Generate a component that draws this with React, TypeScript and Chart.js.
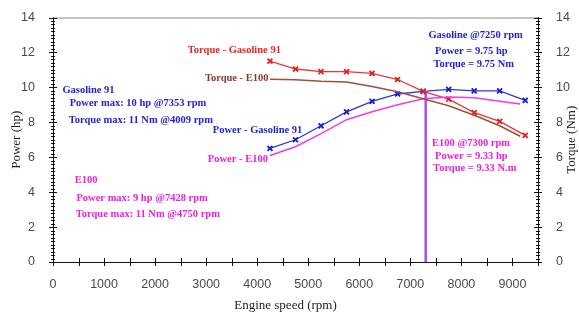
import React, { useEffect, useRef } from "react";
import { Chart, registerables } from "chart.js";

Chart.register(...registerables);

// ---- data ----
const rpmGasoline = [4250, 4750, 5250, 5750, 6250, 6750, 7250, 7750, 8250, 8750, 9250];
const torqueGasoline = [11.5, 11.05, 10.9, 10.9, 10.8, 10.45, 9.77, 9.33, 8.55, 8.05, 7.25];
const powerGasoline = [6.5, 7.0, 7.8, 8.6, 9.2, 9.62, 9.77, 9.88, 9.8, 9.8, 9.25];

const rpmE100 = [4250, 4750, 5250, 5750, 6250, 6750, 7250, 7750, 8250, 8750, 9150];
const torqueE100 = [10.47, 10.44, 10.35, 10.3, 10.05, 9.75, 9.35, 8.95, 8.4, 7.8, 7.2];
const powerE100 = [6.1, 6.6, 7.35, 8.15, 8.6, 9.0, 9.35, 9.45, 9.4, 9.2, 9.05];

const markerRpm = [7300, 7300];
const markerValue = [0, 9.75];

const xTickLabels = [0, 1000, 2000, 3000, 4000, 5000, 6000, 7000, 8000, 9000];
const yTickLabels = [0, 2, 4, 6, 8, 10, 12, 14];

const RED = "#e8363c";
const BLUE = "#2f35d8";
const BROWN = "#a0503a";
const MAGENTA = "#f03ce6";
const PURPLE = "#a64ef2";
const BLUE_TXT = "#2323d6";
const MAG_TXT = "#ee1fe0";
const RED_TXT = "#ec2424";
const BROWN_TXT = "#8a3a30";

// annotation texts placed in data coordinates (rpm, value)
const notes = [
  { text: "Torque - Gasoline 91", x: 2641, y: 12.11, color: RED_TXT },
  { text: "Torque - E100", x: 2975, y: 10.51, color: BROWN_TXT },
  { text: "Gasoline 91", x: 184, y: 9.81, color: BLUE_TXT },
  { text: "Power max: 10 hp @7353 rpm", x: 327, y: 9.07, color: BLUE_TXT },
  { text: "Torque max: 11 Nm @4009 rpm", x: 308, y: 8.12, color: BLUE_TXT },
  { text: "Power - Gasoline 91", x: 3131, y: 7.54, color: BLUE_TXT },
  { text: "Power - E100", x: 3033, y: 5.88, color: MAG_TXT },
  { text: "E100", x: 425, y: 4.69, color: MAG_TXT },
  { text: "Power max: 9 hp @7428 rpm", x: 459, y: 3.67, color: MAG_TXT },
  { text: "Torque max: 11 Nm @4750 rpm", x: 445, y: 2.75, color: MAG_TXT },
  { text: "Gasoline @7250 rpm", x: 7353, y: 13.0, color: BLUE_TXT },
  { text: "Power = 9.75 hp", x: 7484, y: 12.05, color: BLUE_TXT },
  { text: "Torque = 9.75 Nm", x: 7451, y: 11.33, color: BLUE_TXT },
  { text: "E100 @7300 rpm", x: 7425, y: 6.77, color: MAG_TXT },
  { text: "Power = 9.33 hp", x: 7484, y: 6.04, color: MAG_TXT },
  { text: "Torque = 9.33 N.m", x: 7445, y: 5.36, color: MAG_TXT },
];

const pts = (xs: number[], ys: number[]) => xs.map((x, i) => ({ x, y: ys[i] }));

const decorPlugin = {
  id: "decor",
  afterDraw(chart: any) {
    const { ctx, chartArea, scales } = chart;
    const xs = scales.x;
    const ys = scales.y;
    ctx.save();
    // top frame line
    ctx.strokeStyle = "#888";
    ctx.lineWidth = 1;
    ctx.beginPath();
    ctx.moveTo(chartArea.left, chartArea.top + 0.5);
    ctx.lineTo(chartArea.right, chartArea.top + 0.5);
    ctx.stroke();

    ctx.strokeStyle = "#111";
    ctx.lineWidth = 1;
    ctx.beginPath();
    // x ticks every 500
    for (let v = 0; v <= 9500; v += 500) {
      const px = Math.round(xs.getPixelForValue(v)) + 0.5;
      ctx.moveTo(px, chartArea.bottom - 4);
      ctx.lineTo(px, chartArea.bottom + 4);
    }
    // y ticks both sides
    for (let k = 0; k <= 70; k++) {
      const v = k * 0.2;
      const py = Math.round(ys.getPixelForValue(v)) + 0.5;
      const major = k % 10 === 0;
      const len = major ? 4 : 2;
      [chartArea.left, chartArea.right].forEach((ax) => {
        ctx.moveTo(ax - len, py);
        ctx.lineTo(ax + len, py);
      });
    }
    ctx.stroke();

    // axis titles
    ctx.fillStyle = "#222";
    ctx.font = "13px 'Liberation Serif', 'Times New Roman', serif";
    ctx.textAlign = "center";
    ctx.textBaseline = "middle";
    ctx.fillText("Engine speed (rpm)", (chartArea.left + chartArea.right) / 2 - 10, 306);
    const midY = (chartArea.top + chartArea.bottom) / 2;
    ctx.save();
    ctx.translate(17, midY);
    ctx.rotate(-Math.PI / 2);
    ctx.fillText("Power (hp)", 0, 0);
    ctx.restore();
    ctx.save();
    ctx.translate(572, midY);
    ctx.rotate(-Math.PI / 2);
    ctx.fillText("Torque (Nm)", 0, 0);
    ctx.restore();

    // annotations
    ctx.font = "bold 10.5px 'Liberation Serif', 'Times New Roman', serif";
    ctx.textAlign = "left";
    notes.forEach((n) => {
      ctx.fillStyle = n.color;
      ctx.fillText(n.text, xs.getPixelForValue(n.x), ys.getPixelForValue(n.y));
    });
    ctx.restore();
  },
};

export default function App() {
  const ref = useRef<HTMLCanvasElement | null>(null);
  useEffect(() => {
    if (!ref.current) return;
    const tickFont = { family: "'Liberation Sans', Arial, sans-serif", size: 12.5 };
    const plain = (v: any) => String(v);
    const chart = new Chart(ref.current, {
      type: "line",
      data: {
        datasets: [
          {
            label: "Torque - E100",
            data: pts(rpmE100, torqueE100),
            borderColor: BROWN,
            borderWidth: 1.5,
            pointRadius: 0,
            yAxisID: "y2",
          },
          {
            label: "Power - E100",
            data: pts(rpmE100, powerE100),
            borderColor: MAGENTA,
            borderWidth: 1.5,
            pointRadius: 0,
            yAxisID: "y",
          },
          {
            label: "Torque - Gasoline 91",
            data: pts(rpmGasoline, torqueGasoline),
            borderColor: RED,
            borderWidth: 1.3,
            pointStyle: "crossRot",
            pointRadius: 3.5,
            pointBorderWidth: 1.8,
            pointBorderColor: "#e02020",
            yAxisID: "y2",
          },
          {
            label: "Power - Gasoline 91",
            data: pts(rpmGasoline, powerGasoline),
            borderColor: BLUE,
            borderWidth: 1.3,
            pointStyle: "crossRot",
            pointRadius: 3.5,
            pointBorderWidth: 1.8,
            pointBorderColor: "#1a1ad0",
            yAxisID: "y",
          },
          {
            label: "E100 @7300 rpm",
            data: pts(markerRpm, markerValue),
            borderColor: PURPLE,
            borderWidth: 2.5,
            pointRadius: 0,
            yAxisID: "y",
          },
        ],
      },
      options: {
        responsive: false,
        animation: false,
        layout: { padding: { top: 16, left: 0, right: 0, bottom: 0 } },
        plugins: { legend: { display: false }, tooltip: { enabled: false } },
        scales: {
          x: {
            type: "linear",
            min: 0,
            max: 9500,
            afterFit: (s: any) => {
              s.height = 53;
            },
            afterBuildTicks: (s: any) => {
              s.ticks = xTickLabels.map((v) => ({ value: v }));
            },
            grid: { display: false },
            border: { display: true, color: "#111", width: 1 },
            ticks: { color: "#4a4a4a", font: tickFont, padding: 7, maxRotation: 0, autoSkip: false, callback: plain },
          },
          y: {
            position: "left",
            min: 0,
            max: 14,
            afterFit: (s: any) => {
              s.width = 53;
            },
            afterBuildTicks: (s: any) => {
              s.ticks = yTickLabels.map((v) => ({ value: v }));
            },
            grid: { display: false },
            border: { display: true, color: "#111", width: 1 },
            ticks: { color: "#4a4a4a", font: tickFont, padding: 10, callback: plain },
          },
          y2: {
            position: "right",
            min: 0,
            max: 14,
            afterFit: (s: any) => {
              s.width = 41;
            },
            afterBuildTicks: (s: any) => {
              s.ticks = yTickLabels.map((v) => ({ value: v }));
            },
            grid: { display: false },
            border: { display: true, color: "#111", width: 1 },
            ticks: { color: "#4a4a4a", font: tickFont, padding: 10, callback: plain },
          },
        },
      },
      plugins: [decorPlugin],
    } as any);
    return () => chart.destroy();
  }, []);
  return (
    <div style={{ position: "fixed", left: 0, top: 0, width: 579, height: 315, background: "#fff" }}>
      <canvas ref={ref} width={579} height={315} style={{ display: "block" }} />
    </div>
  );
}
